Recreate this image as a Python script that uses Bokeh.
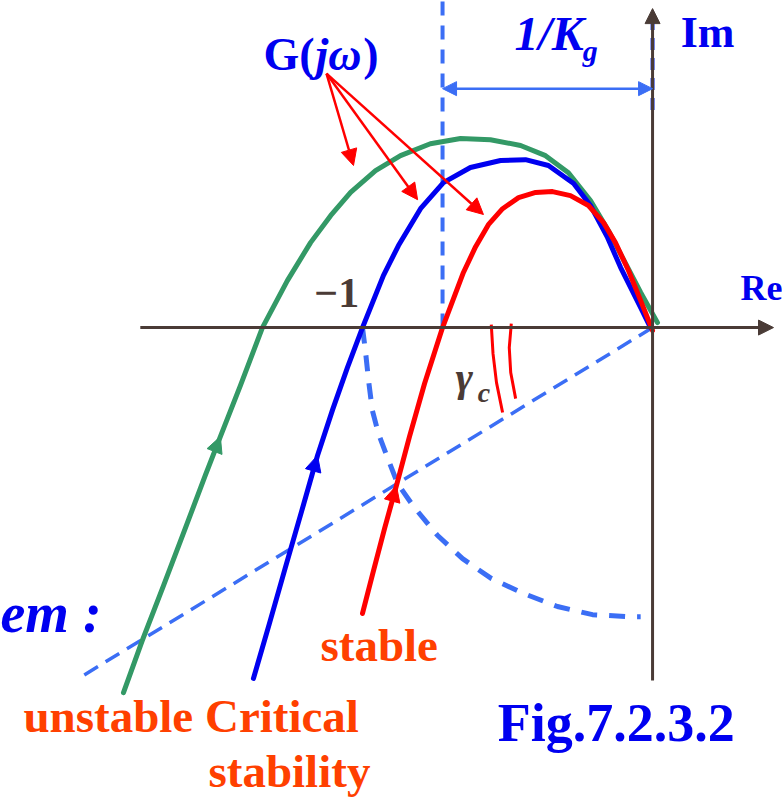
from bokeh.plotting import figure
from bokeh.models import Range1d, Arrow, NormalHead
from bokeh.core.properties import value
from bokeh.embed import file_html
from bokeh.resources import INLINE

# ---- Nyquist loci G(jw) in the complex plane (Re, Im), low frequency first ----
unstable_re = [-1.824, -1.759, -1.686, -1.610, -1.541, -1.490, -1.421, -1.345, -1.259, -1.179,
               -1.110, -1.041, -0.955, -0.869, -0.766, -0.662, -0.559, -0.455, -0.369, -0.290,
               -0.214, -0.152, -0.093, -0.041, 0.017]
unstable_im = [-1.259, -1.079, -0.890, -0.690, -0.507, -0.376, -0.200, 0.0, 0.162, 0.293,
               0.386, 0.466, 0.541, 0.593, 0.634, 0.652, 0.648, 0.628, 0.593, 0.534,
               0.438, 0.334, 0.221, 0.121, 0.017]

critical_re = [-1.376, -1.321, -1.266, -1.210, -1.155, -1.103, -1.052, -1.000, -0.928, -0.876,
               -0.800, -0.721, -0.628, -0.524, -0.438, -0.359, -0.272, -0.214, -0.155, -0.110,
               -0.041, -0.007]
critical_im = [-1.210, -1.021, -0.828, -0.634, -0.441, -0.283, -0.138, 0.0, 0.179, 0.283,
               0.410, 0.500, 0.552, 0.576, 0.579, 0.559, 0.497, 0.421, 0.310, 0.207,
               0.069, 0.0]

stable_re = [-1.000, -0.962, -0.924, -0.883, -0.838, -0.786, -0.724, -0.652, -0.610, -0.566,
             -0.517, -0.462, -0.403, -0.345, -0.283, -0.221, -0.169, -0.128, -0.083, -0.041, 0.0]
stable_im = [-0.986, -0.838, -0.693, -0.545, -0.376, -0.193, 0.0, 0.190, 0.279, 0.355,
             0.410, 0.448, 0.466, 0.469, 0.455, 0.421, 0.362, 0.293, 0.197, 0.093, -0.010]

# index of the point on each locus that carries the direction arrow
unstable_arrow_i = 5
critical_arrow_i = 4
stable_arrow_i = 3

# unit circle (lower-left quarter), drawn dashed
circle_re = [-1.0, -0.990, -0.979, -0.966, -0.945, -0.914, -0.879, -0.824, -0.741, -0.655,
             -0.555, -0.445, -0.328, -0.207, -0.083, -0.041]
circle_im = [0.0, -0.079, -0.183, -0.286, -0.366, -0.448, -0.538, -0.617, -0.717, -0.797,
             -0.866, -0.917, -0.962, -0.990, -0.997, -0.997]

# phase-margin ray from the origin through the circle crossing
pm_re = [0.0, -1.979]
pm_im = [0.0, -1.210]

# gamma_c angle marks
gamma_outer_re = [-0.556, -0.550, -0.538, -0.517]
gamma_outer_im = [0.010, -0.090, -0.190, -0.293]
gamma_inner_re = [-0.487, -0.494, -0.489, -0.472]
gamma_inner_im = [0.014, -0.069, -0.155, -0.245]

# the stable locus crosses the negative real axis at -1/Kg
kg_cross = stable_re[stable_im.index(0.0)]

# pointer lines from the G(jw) label to each locus
pointer_from = (-1.124, 0.876)
pointer_to_re = [-1.031, -0.810, -0.583]
pointer_to_im = [0.559, 0.441, 0.390]

GREEN = "#339966"
BLUE = "#0000f0"
RED = "#ff0000"
DASH_BLUE = "#3b6ef5"
AXIS = "#4a3b36"
LABEL_RED = "#ff4000"
SERIF = value("Liberation Serif")
PX = 290.0  # screen pixels per unit of the complex plane

p = figure(width=782, height=800, x_range=Range1d(-2.248, 0.448), y_range=Range1d(-1.631, 1.128),
           output_backend="svg", toolbar_location=None, x_axis_type=None, y_axis_type=None,
           min_border=0, min_border_left=0, min_border_right=0, min_border_top=0, min_border_bottom=0)
p.grid.visible = False
p.outline_line_color = None
p.background_fill_color = "white"
p.border_fill_color = "white"

# coordinate axes with arrow heads
p.add_layout(Arrow(end=NormalHead(size=15, fill_color=AXIS, line_color=AXIS, line_width=1),
                   x_start=-1.766, y_start=0.0, x_end=0.417, y_end=0.0,
                   line_color=AXIS, line_width=3))
p.add_layout(Arrow(end=NormalHead(size=15, fill_color=AXIS, line_color=AXIS, line_width=1),
                   x_start=0.0, y_start=-1.217, x_end=0.0, y_end=1.100,
                   line_color=AXIS, line_width=3))

# dashed construction lines
p.line([0.0, 0.0], [0.75, 1.093], line_color="#1030e6", line_width=4, line_dash="12 8")
p.line([kg_cross, kg_cross], [0.0, 1.128], line_color=DASH_BLUE, line_width=4, line_dash="14 10")
p.line(circle_re, circle_im, line_color=DASH_BLUE, line_width=5, line_dash="16 12")
p.line(pm_re, pm_im, line_color=DASH_BLUE, line_width=3.5, line_dash="16 9")

# 1/Kg dimension arrow
p.add_layout(Arrow(start=NormalHead(size=14, fill_color=DASH_BLUE, line_color=DASH_BLUE, line_width=1),
                   end=NormalHead(size=14, fill_color=DASH_BLUE, line_color=DASH_BLUE, line_width=1),
                   x_start=kg_cross, y_start=0.824, x_end=0.0, y_end=0.824,
                   line_color=DASH_BLUE, line_width=2.5))

# the three loci
for re, im, col, ai in [(unstable_re, unstable_im, GREEN, unstable_arrow_i),
                        (critical_re, critical_im, BLUE, critical_arrow_i),
                        (stable_re, stable_im, RED, stable_arrow_i)]:
    p.line(re, im, line_color=col, line_width=5, line_join="round", line_cap="round")
    p.add_layout(Arrow(end=NormalHead(size=16, fill_color=col, line_color=col, line_width=1),
                       x_start=re[ai - 1], y_start=im[ai - 1], x_end=re[ai], y_end=im[ai],
                       line_alpha=0))

# gamma_c marks
p.line(gamma_outer_re, gamma_outer_im, line_color=RED, line_width=3, line_join="round")
p.line(gamma_inner_re, gamma_inner_im, line_color=RED, line_width=3, line_join="round")

# pointers from the G(jw) label
for tx, ty in zip(pointer_to_re, pointer_to_im):
    p.add_layout(Arrow(end=NormalHead(size=16, fill_color=RED, line_color=RED, line_width=1),
                       x_start=pointer_from[0], y_start=pointer_from[1], x_end=tx, y_end=ty,
                       line_color=RED, line_width=2.5))


def label(x, y, s, size, color, style="bold"):
    # y is the wanted baseline; lift the anchor to compensate for the renderer's text box
    lift = 0.36 * size / PX
    p.text(x=[x], y=[y + lift], text=[s], text_font=SERIF, text_font_style=style,
           text_font_size=f"{size}px", text_color=color, text_align="left",
           text_baseline="alphabetic")


label(-1.341, 0.886, "G(", 46, BLUE)
label(-1.162, 0.886, "jω", 46, BLUE, "bold italic")
label(-0.997, 0.886, ")", 46, BLUE)
label(-0.476, 0.955, "1/K", 48, BLUE, "bold italic")
label(-0.241, 0.917, "g", 30, BLUE, "bold italic")
label(0.097, 0.962, "Im", 44, BLUE)
label(0.303, 0.093, "Re", 36, BLUE)
label(-1.166, 0.0655, "−1", 42, AXIS)
label(-0.679, -0.224, "γ", 42, AXIS, "bold italic")
label(-0.603, -0.259, "c", 28, AXIS, "bold italic")
label(-2.248, -1.055, "em :", 56, BLUE, "bold italic")
label(-1.145, -1.152, "stable", 47, LABEL_RED)
label(-2.169, -1.397, "unstable Critical", 47, LABEL_RED)
label(-1.531, -1.586, "stability", 47, LABEL_RED)
label(-0.534, -1.431, "Fig.7.2.3.2", 54, BLUE)

open("out.html", "w").write(file_html(p, INLINE))
